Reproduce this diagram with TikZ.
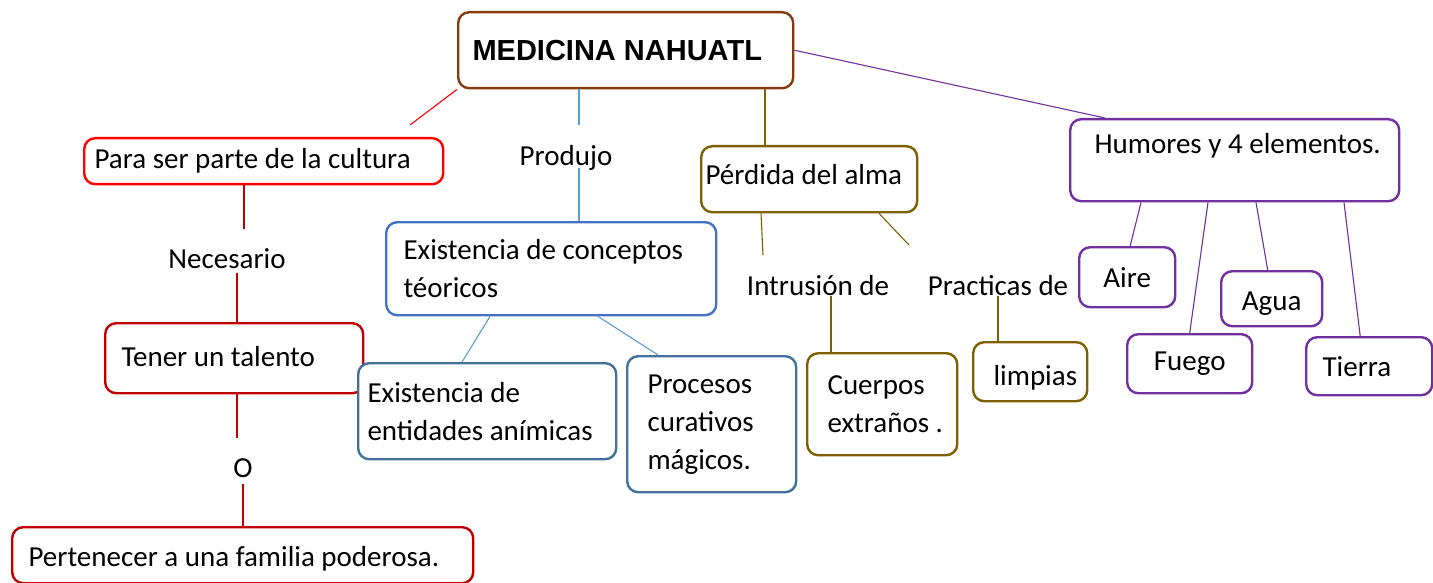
\documentclass[tikz,border=0pt]{standalone}
\usepackage{fontspec}
\setmainfont{Carlito}
\newfontfamily\titlefont{Liberation Sans}

\definecolor{titlebrown}{RGB}{132,60,12}
\definecolor{brightred}{RGB}{255,0,0}
\definecolor{darkred}{RGB}{192,0,0}
\definecolor{boxblue}{RGB}{68,114,196}
\definecolor{steelblue}{RGB}{65,113,156}
\definecolor{lineblue}{RGB}{91,155,213}
\definecolor{olivebrown}{RGB}{127,96,0}
\definecolor{humpurple}{RGB}{112,48,160}

\tikzset{every picture/.style={line width=1.1pt}}
\tikzset{
  box/.style={draw=#1, line width=2.4pt, rounded corners=11pt, fill=white, anchor=north west, inner sep=0pt},
  txt/.style={inner sep=0pt, align=left, font=\fontsize{29}{38}\selectfont},
  link/.style={draw=#1, line width=1.1pt}
}

\begin{document}
\begin{tikzpicture}[x=1pt,y=1pt,yscale=-1,xscale=1]
\useasboundingbox (0,0) rectangle (1433,583);

% main title
\node[box=titlebrown, minimum width=335pt, minimum height=76pt] (title) at (457,11) {};
\node[txt, anchor=west, font=\fontsize{29}{38}\titlefont\bfseries] (titleT) at ([xshift=15pt]title.west) {MEDICINA NAHUATL};

% left branch (red)
\node[box=brightred, minimum width=359pt, minimum height=46pt] (cultura) at (83,137) {};
\node[txt, anchor=west] (culturaT) at ([xshift=11pt]cultura.west) {Para ser parte de la cultura};
\node[txt, anchor=base] (necesario) at (227,268) {Necesario};
\node[box=darkred, minimum width=258pt, minimum height=70pt] (tener) at (104,322) {};
\node[txt, anchor=west] (tenerT) at ([shift={(17,-2)}]tener.west) {Tener un talento};
\node[txt, anchor=base] (oLbl) at (243,477) {O};
\node[box=darkred, minimum width=461pt, minimum height=56pt] (familia) at (11,526) {};
\node[txt, anchor=west] (familiaT) at ([shift={(17,4)}]familia.west) {Pertenecer a una familia poderosa.};

% second branch (blue)
\node[txt, anchor=base] (produjo) at (566,165) {Produjo};
\node[box=boxblue, minimum width=330pt, minimum height=93pt] (conceptos) at (385,221) {};
\node[txt, anchor=west] (conceptosT) at ([xshift=18pt]conceptos.west) {Existencia de conceptos\\t\'eoricos};
\node[box=steelblue, minimum width=258pt, minimum height=96pt] (entidades) at (357,362) {};
\node[txt, anchor=west] (entidadesT) at ([xshift=10pt]entidades.west) {Existencia de\\entidades an\'imicas};
\node[box=steelblue, minimum width=169pt, minimum height=136pt] (procesos) at (626,355) {};
\node[txt, anchor=west] (procesosT) at ([xshift=21pt]procesos.west) {Procesos\\curativos\\m\'agicos.};

% third branch (olive)
\node[box=olivebrown, minimum width=216pt, minimum height=66pt] (alma) at (700,145) {};
\node[txt, anchor=west] (almaT) at ([shift={(5,-5)}]alma.west) {P\'erdida del alma};
\node[txt, anchor=base] (intrusion) at (818,295) {Intrusi\'on de};
\node[txt, anchor=base] (practicas) at (998,295) {Practicas de};
\node[box=olivebrown, minimum width=150pt, minimum height=102pt] (cuerpos) at (806,352) {};
\node[txt, anchor=west] (cuerposT) at ([xshift=21pt]cuerpos.west) {Cuerpos\\extra\~nos .};
\node[box=olivebrown, minimum width=114pt, minimum height=59pt] (limpias) at (972,341) {};
\node[txt, anchor=west] (limpiasT) at ([shift={(21,6)}]limpias.west) {limpias};

% fourth branch (purple)
\node[box=humpurple, minimum width=329pt, minimum height=82pt] (humores) at (1069,118) {};
\node[txt, anchor=west] (humoresT) at ([shift={(25,-14)}]humores.west) {Humores y 4 elementos.};
\node[box=humpurple, minimum width=96pt, minimum height=60pt] (aire) at (1078,246) {};
\node[txt] (aireT) at (aire.center) {Aire};
\node[box=humpurple, minimum width=101pt, minimum height=55pt] (agua) at (1220,270) {};
\node[txt] (aguaT) at ([yshift=5pt]agua.center) {Agua};
\node[box=humpurple, minimum width=125pt, minimum height=59pt] (fuego) at (1126,333) {};
\node[txt] (fuegoT) at (fuego.center) {Fuego};
\node[box=humpurple, minimum width=126pt, minimum height=58pt] (tierra) at (1305,336) {};
\node[txt, anchor=west] (tierraT) at ([xshift=17pt]tierra.west) {Tierra};

% connectors from the title
\coordinate (culA) at (410,125);
\draw[link=brightred] (title.south west) -- (culA);
\coordinate (prodA) at (579,125);
\draw[link=lineblue] (title.south -| prodA) -- (prodA);
\coordinate (prodB) at (579,168);
\draw[link=lineblue] (prodB) -- (prodB |- conceptos.north);
\coordinate (almaA) at (765,0);
\draw[link=olivebrown] (title.south -| almaA) -- (alma.north -| almaA);
\draw[link=humpurple] (title.east) -- ([xshift=36pt]humores.north west);

% red chain
\coordinate (necA) at (244,229);
\draw[link=darkred] (cultura.south -| necA) -- (necA);
\coordinate (necB) at (237,273);
\draw[link=darkred] (necB) -- (necB |- tener.north);
\coordinate (oA) at (237,438);
\draw[link=darkred] (tener.south -| oA) -- (oA);
\coordinate (oB) at (243,484);
\draw[link=darkred] (oB) -- (oB |- familia.north);

% blue chain
\draw[link=lineblue] ([xshift=105pt]conceptos.south west) -- ([xshift=105pt]entidades.north west);
\draw[link=lineblue] ([xshift=213pt]conceptos.south west) -- ([xshift=32pt]procesos.north west);

% olive chain
\coordinate (intA) at (763,255);
\draw[link=olivebrown] ([xshift=61pt]alma.south west) -- (intA);
\coordinate (intB) at ([xshift=25pt]cuerpos.north west);
\draw[link=olivebrown] (intB |- intrusion.south) -- (intB);
\coordinate (prA) at (909,245);
\draw[link=olivebrown] ([xshift=179pt]alma.south west) -- (prA);
\coordinate (prB) at ([xshift=26pt]limpias.north west);
\draw[link=olivebrown] (prB |- practicas.south) -- (prB);

% purple chain
\draw[link=humpurple] ([xshift=72pt]humores.south west) -- ([xshift=3pt]aire.north);
\draw[link=humpurple] ([xshift=139pt]humores.south west) -- (fuego.north);
\draw[link=humpurple] ([xshift=187pt]humores.south west) -- ([xshift=-4pt]agua.north);
\draw[link=humpurple] ([xshift=275pt]humores.south west) -- ([xshift=-9pt]tierra.north);

\end{tikzpicture}
\end{document}
